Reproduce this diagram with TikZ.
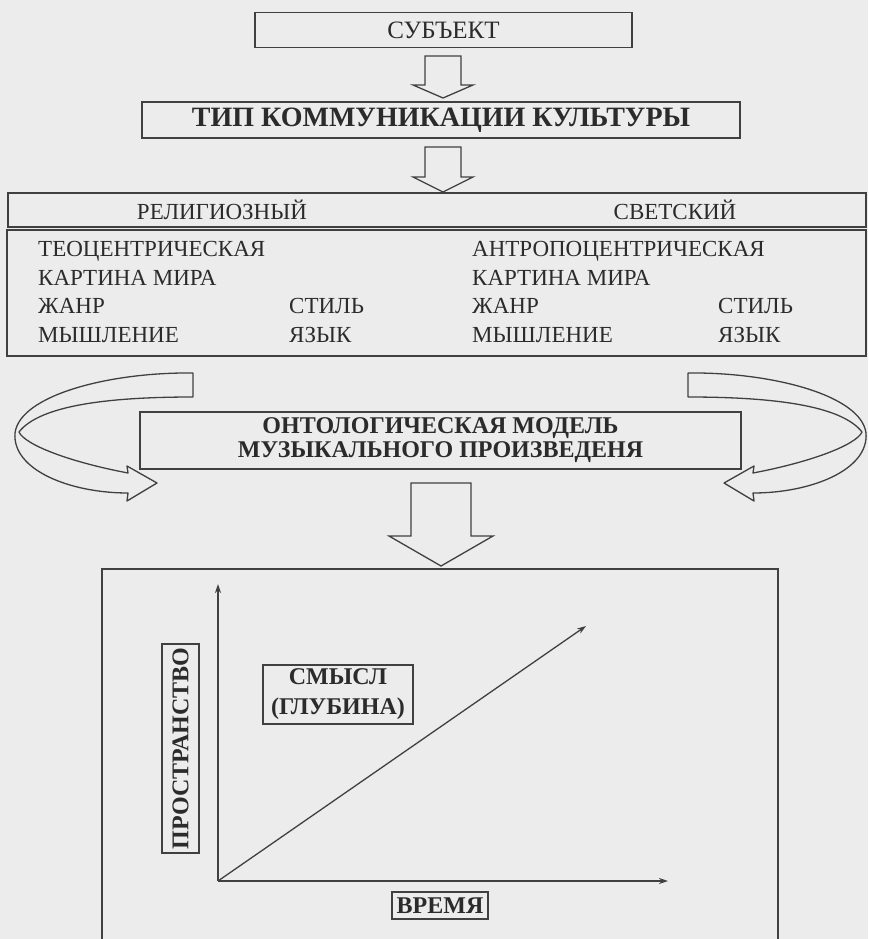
\documentclass[tikz,border=0pt]{standalone}
\usepackage{fontspec}
\setmainfont{Liberation Serif}
\usetikzlibrary{arrows.meta}
\definecolor{bgc}{gray}{0.925}
\definecolor{ln}{gray}{0.25}
\definecolor{tx}{gray}{0.17}
\begin{document}
\begin{tikzpicture}[x=1pt,y=-1pt,
  box/.style={draw=ln, line width=1.3pt, inner sep=0pt, text=tx},
  reg/.style={font=\fontsize{23}{26}\selectfont, text=tx, inner sep=0pt},
  bld/.style={font=\fontsize{24}{24}\selectfont\bfseries, text=tx, inner sep=0pt},
  blockarrow/.style={draw=ln, line width=1.3pt, fill=bgc, line join=miter},
  axis/.style={draw=ln, line width=1.3pt, -{Stealth[length=9pt,width=6pt]}}]
\useasboundingbox[fill=bgc] (0,0) rectangle (868,939);

% top boxes
\node[box, minimum width=377pt, minimum height=35pt, font=\fontsize{25}{28}\selectfont] (subj) at (443.5,30) {СУБЪЕКТ};
\node[box, minimum width=598pt, minimum height=36pt, font=\fontsize{28}{30}\selectfont\bfseries] (tip) at (441,120) {ТИП КОММУНИКАЦИИ КУЛЬТУРЫ};

% block arrows
\draw[blockarrow] (425,56) -- (461,56) -- (461,85) -- (473,85) -- (443,98) -- (413,85) -- (425,85) -- cycle;
\draw[blockarrow] (425,147) -- (461,147) -- (461,177) -- (473,177) -- (443,192) -- (413,177) -- (425,177) -- cycle;

% big table
\node[box, minimum width=858pt, minimum height=34pt] (head) at (437,210) {};
\node[box, minimum width=859pt, minimum height=126pt] (body) at (436.5,293) {};
\node[reg, anchor=base] (rel) at (222,219) {РЕЛИГИОЗНЫЙ};
\node[reg, anchor=base] (sec) at (675,219) {СВЕТСКИЙ};

\node[reg, anchor=base west] (l1) at (38,256) {ТЕОЦЕНТРИЧЕСКАЯ};
\node[reg, anchor=base west] (l2) at (38,285) {КАРТИНА МИРА};
\node[reg, anchor=base west] (l3) at (38,313) {ЖАНР};
\node[reg, anchor=base west] (l4) at (38,342) {МЫШЛЕНИЕ};
\node[reg, anchor=base west] (l5) at (289,313) {СТИЛЬ};
\node[reg, anchor=base west] (l6) at (289,342) {ЯЗЫК};

\node[reg, anchor=base west] (r1) at (472,256) {АНТРОПОЦЕНТРИЧЕСКАЯ};
\node[reg, anchor=base west] (r2) at (472,285) {КАРТИНА МИРА};
\node[reg, anchor=base west] (r3) at (472,313) {ЖАНР};
\node[reg, anchor=base west] (r4) at (472,342) {МЫШЛЕНИЕ};
\node[reg, anchor=base west] (r5) at (718,313) {СТИЛЬ};
\node[reg, anchor=base west] (r6) at (718,342) {ЯЗЫК};

% curved ribbon arrows
\draw[blockarrow, line join=round] (193,373) .. controls (110,372) and (20,395) .. (15,433)
  .. controls (12,470) and (70,493) .. (128,493) -- (127,501) -- (157,483) -- (127,466) -- (128,473)
  .. controls (70,462) and (25,445) .. (19,432)
  .. controls (40,405) and (110,397) .. (193,397) -- cycle;
\draw[blockarrow, line join=round] (688,373) .. controls (771,372) and (861,395) .. (866,433)
  .. controls (869,470) and (811,493) .. (753,493) -- (754,501) -- (724,483) -- (754,466) -- (753,473)
  .. controls (811,462) and (856,445) .. (862,432)
  .. controls (841,405) and (771,397) .. (688,397) -- cycle;

% ontological model
\node[box, minimum width=601pt, minimum height=57pt, bld, align=center] (onto) at (440.5,440.5)
  {ОНТОЛОГИЧЕСКАЯ МОДЕЛЬ\\МУЗЫКАЛЬНОГО ПРОИЗВЕДЕНЯ};

\draw[blockarrow] (411,483) -- (471,483) -- (471,536) -- (493,536) -- (441,566) -- (389,536) -- (411,536) -- cycle;

% bottom frame
\draw[ln, line width=1.3pt] (102,945) -- (102,569) -- (778,569) -- (778,945);

% axes
\coordinate (o) at (218,881);
\coordinate (ytop) at (218,584);
\coordinate (xend) at (668,881);
\coordinate (dend) at (586,626);
\draw[axis] (o) -- (ytop);
\draw[axis] (o) -- (xend);
\draw[axis] (o) -- (dend);

\node[box, bld, rotate=90, minimum width=209pt, minimum height=37pt] (space) at (180.5,748.5) {ПРОСТРАНСТВО};
\node[box, bld, align=center, minimum width=150pt, minimum height=59pt, font=\fontsize{24}{30}\selectfont\bfseries] (sense) at (338,694.5) {СМЫСЛ\\(ГЛУБИНА)};
\node[box, bld, minimum width=96pt, minimum height=27pt] (time) at (440,905.5) {ВРЕМЯ};
\end{tikzpicture}
\end{document}
